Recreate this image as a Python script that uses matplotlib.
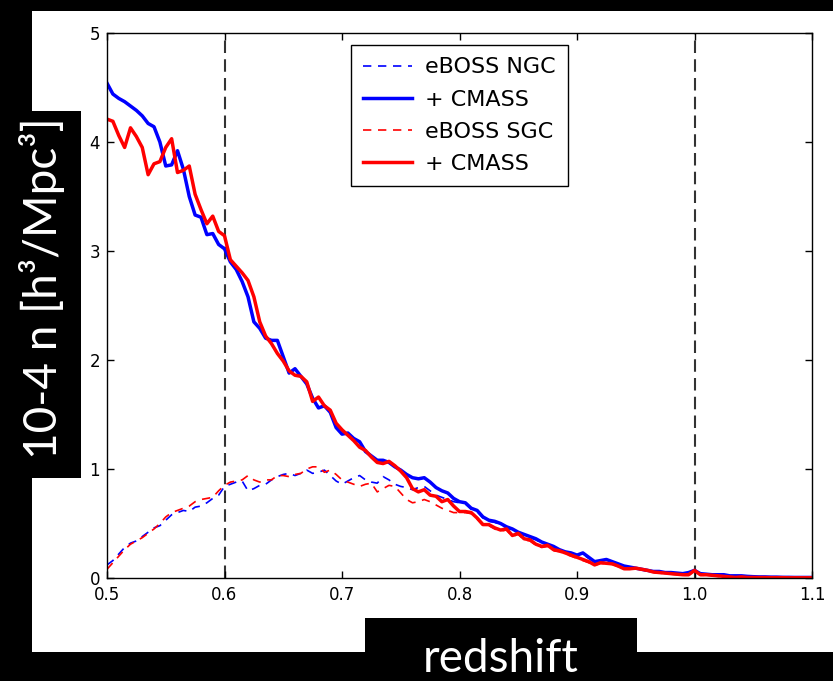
import numpy as np
import matplotlib
matplotlib.use("Agg")
import matplotlib.pyplot as plt
from matplotlib.patches import Rectangle

# redshift bins
z = np.round(np.arange(0.5, 1.1001, 0.005), 3)

ngc_cmass = [
    4.54, 4.44, 4.40, 4.37, 4.33, 4.29, 4.24, 4.17, 4.14, 4.00, 3.78, 3.79, 3.92, 3.75, 3.50, 3.33, 3.31, 3.15, 3.16, 3.06,
    3.02, 2.90, 2.83, 2.72, 2.58, 2.35, 2.29, 2.20, 2.18, 2.18, 2.03, 1.88, 1.92, 1.85, 1.78, 1.65, 1.56, 1.58, 1.52, 1.38,
    1.32, 1.33, 1.28, 1.25, 1.16, 1.12, 1.08, 1.08, 1.06, 1.02, 0.99, 0.95, 0.92, 0.91, 0.92, 0.88, 0.83, 0.80, 0.78, 0.73,
    0.70, 0.69, 0.64, 0.62, 0.56, 0.53, 0.52, 0.50, 0.47, 0.45, 0.42, 0.40, 0.38, 0.36, 0.33, 0.31, 0.29, 0.26, 0.24, 0.23,
    0.21, 0.23, 0.19, 0.15, 0.16, 0.17, 0.15, 0.13, 0.11, 0.10, 0.09, 0.08, 0.07, 0.06, 0.06, 0.05, 0.05, 0.045, 0.04, 0.05,
    0.07, 0.04, 0.035, 0.03, 0.03, 0.03, 0.02, 0.02, 0.02, 0.015, 0.012, 0.01, 0.01, 0.008, 0.008, 0.006, 0.006, 0.005, 0.005, 0.005, 0.005,
]

sgc_cmass = [
    4.21, 4.19, 4.06, 3.95, 4.13, 4.05, 3.95, 3.70, 3.80, 3.82, 3.95, 4.03, 3.72, 3.74, 3.78, 3.52, 3.38, 3.25, 3.32, 3.18,
    3.14, 2.92, 2.86, 2.80, 2.73, 2.58, 2.35, 2.22, 2.15, 2.06, 1.99, 1.90, 1.86, 1.85, 1.80, 1.62, 1.66, 1.58, 1.54, 1.42,
    1.36, 1.31, 1.26, 1.20, 1.17, 1.11, 1.06, 1.05, 1.07, 1.03, 0.98, 0.92, 0.82, 0.79, 0.81, 0.76, 0.75, 0.70, 0.72, 0.66,
    0.61, 0.61, 0.60, 0.55, 0.49, 0.49, 0.46, 0.44, 0.45, 0.39, 0.41, 0.36, 0.35, 0.31, 0.29, 0.30, 0.26, 0.25, 0.23, 0.21,
    0.19, 0.17, 0.15, 0.12, 0.14, 0.135, 0.13, 0.11, 0.085, 0.085, 0.09, 0.08, 0.07, 0.055, 0.05, 0.045, 0.04, 0.035, 0.03, 0.03,
    0.07, 0.03, 0.03, 0.025, 0.02, 0.015, 0.01, 0.005, 0.01, 0.005, 0.005, 0.004, 0.004, 0.003, 0.003, 0.003, 0.002, 0.002, 0.002, 0.002, 0.002,
]

ngc_eboss = [
    0.12, 0.16, 0.22, 0.28, 0.32, 0.34, 0.38, 0.42, 0.46, 0.48, 0.53, 0.58, 0.60, 0.62, 0.61, 0.65, 0.66, 0.69, 0.73, 0.76,
    0.84, 0.86, 0.88, 0.89, 0.80, 0.82, 0.85, 0.86, 0.90, 0.93, 0.95, 0.96, 0.94, 0.96, 0.99, 0.96, 0.97, 0.99, 0.94, 0.89,
    0.86, 0.89, 0.92, 0.94, 0.90, 0.88, 0.87, 0.93, 0.90, 0.86, 0.84, 0.83, 0.81, 0.83, 0.84, 0.80, 0.76, 0.74, 0.72, 0.70,
    0.69, 0.68, 0.63, 0.61, 0.55, 0.52, 0.51, 0.49, 0.46, 0.44, 0.41, 0.39, 0.37, 0.35, 0.32, 0.30, 0.28, 0.25, 0.23, 0.22,
    0.20, 0.22, 0.18, 0.15, 0.155, 0.165, 0.145, 0.125, 0.105, 0.095, 0.085, 0.075, 0.065, 0.055, 0.055, 0.045, 0.045, 0.04, 0.035, 0.045,
    0.065, 0.035, 0.03, 0.028, 0.028, 0.028, 0.018, 0.018, 0.018, 0.013, 0.011, 0.009, 0.009, 0.007, 0.007, 0.005, 0.005, 0.004, 0.004, 0.004, 0.004,
]

sgc_eboss = [
    0.08, 0.14, 0.20, 0.26, 0.31, 0.34, 0.37, 0.41, 0.45, 0.50, 0.56, 0.60, 0.62, 0.64, 0.66, 0.70, 0.72, 0.73, 0.74, 0.80,
    0.85, 0.88, 0.89, 0.90, 0.94, 0.90, 0.88, 0.90, 0.90, 0.94, 0.94, 0.93, 0.95, 0.96, 1.00, 1.02, 1.02, 0.97, 0.99, 0.95,
    0.90, 0.88, 0.86, 0.84, 0.86, 0.87, 0.79, 0.82, 0.85, 0.84, 0.78, 0.72, 0.69, 0.70, 0.72, 0.70, 0.67, 0.64, 0.62, 0.60,
    0.60, 0.60, 0.59, 0.54, 0.48, 0.48, 0.45, 0.43, 0.44, 0.38, 0.40, 0.35, 0.34, 0.30, 0.28, 0.29, 0.25, 0.24, 0.22, 0.20,
    0.18, 0.16, 0.14, 0.115, 0.135, 0.13, 0.125, 0.105, 0.08, 0.08, 0.085, 0.075, 0.065, 0.05, 0.045, 0.04, 0.035, 0.03, 0.025, 0.025,
    0.065, 0.025, 0.025, 0.02, 0.015, 0.01, 0.008, 0.004, 0.008, 0.004, 0.004, 0.003, 0.003, 0.002, 0.002, 0.002, 0.002, 0.001, 0.001, 0.001, 0.001,
]

vlines = [0.6, 1.0]
xticks = [0.5, 0.6, 0.7, 0.8, 0.9, 1.0, 1.1]
xticklabels = ["0.5", "0.6", "0.7", "0.8", "0.9", "1.0", "1.1"]
yticks = [0, 1, 2, 3, 4, 5]
labels = ["eBOSS NGC", "+ CMASS", "eBOSS SGC", "+ CMASS"]

W, H = 833, 681
fig = plt.figure(figsize=(W / 100, H / 100), dpi=100, facecolor="black")

# white panel
fig.patches.append(Rectangle((32 / W, 29 / H), 801 / W, 641 / H, transform=fig.transFigure,
                             facecolor="white", edgecolor="none", zorder=-1))
# black boxes for labels
fig.patches.append(Rectangle((0, 203 / H), 81 / W, 367 / H, transform=fig.transFigure,
                             facecolor="black", edgecolor="none", zorder=1))
fig.patches.append(Rectangle((365 / W, 0), 272 / W, 63 / H, transform=fig.transFigure,
                             facecolor="black", edgecolor="none", zorder=1))

ax = fig.add_axes([107 / W, 103 / H, 705 / W, 545 / H])
ax.set_facecolor("white")

dash = (0, (5, 4))
ax.plot(z, ngc_eboss, color="#0000ff", lw=1.2, linestyle=dash, label=labels[0])
ax.plot(z, ngc_cmass, color="#0000ff", lw=2.5, label=labels[1])
ax.plot(z, sgc_eboss, color="#ff0000", lw=1.2, linestyle=dash, label=labels[2])
ax.plot(z, sgc_cmass, color="#ff0000", lw=2.5, label=labels[3])

for v in vlines:
    ax.axvline(v, color="#333333", lw=1.5, linestyle=(0, (6, 3)), zorder=1)

ax.set_xlim(0.5, 1.1)
ax.set_ylim(0, 5)
ax.set_xticks(xticks)
ax.set_xticklabels(xticklabels)
ax.set_yticks(yticks)
ax.tick_params(direction="in", top=True, right=True, length=5, width=1, labelsize=12, pad=5)
ax.tick_params(axis="x", pad=6)
for s in ax.spines.values():
    s.set_linewidth(1.0)
    s.set_color("black")

leg = ax.legend(loc="upper center", bbox_to_anchor=(0.4995, 1.0), fontsize=16, frameon=True,
                fancybox=False, framealpha=1, edgecolor="black", handlelength=2.2,
                handletextpad=0.6, labelspacing=0.55, borderaxespad=0.55, borderpad=0.55)
leg.get_frame().set_linewidth(1.0)

fig.text(42 / W, 1 - 288 / H, "10-4 n [h\u00b3/Mpc\u00b3]", rotation=90, color="white",
         fontsize=33, family=["Lato", "DejaVu Sans"], ha="center", va="center", zorder=2)
fig.text(501 / W, 1 / H, "redshift", color="white", fontsize=33,
         family=["Lato", "DejaVu Sans"], ha="center", va="bottom", zorder=2)

fig.savefig("out.png", dpi=100, facecolor="black")
